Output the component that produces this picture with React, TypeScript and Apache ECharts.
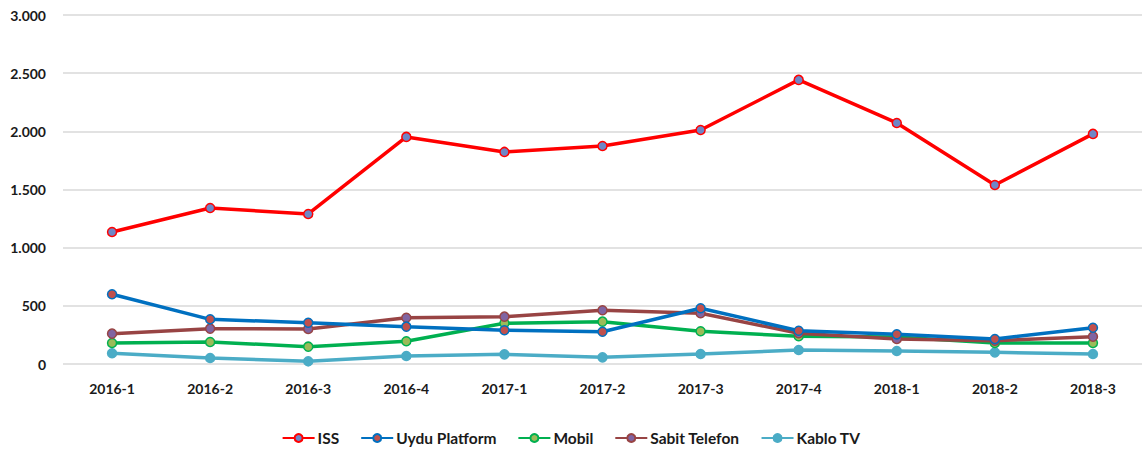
import React, { useEffect, useRef } from "react";
import * as echarts from "echarts";

const categories = ["2016-1", "2016-2", "2016-3", "2016-4", "2017-1", "2017-2", "2017-3", "2017-4", "2018-1", "2018-2", "2018-3"];
const iss = [1135, 1341, 1290, 1952, 1823, 1874, 2012, 2442, 2072, 1539, 1978];
const uydu = [599, 384, 355, 321, 290, 277, 479, 286, 255, 215, 312];
const mobil = [181, 189, 149, 195, 350, 364, 281, 238, 232, 181, 181];
const sabit = [261, 304, 301, 398, 407, 462, 436, 264, 215, 200, 235];
const kablo = [92, 52, 23, 69, 83, 57, 86, 120, 112, 100, 86];

const seriesNames = ["ISS", "Uydu Platform", "Mobil", "Sabit Telefon", "Kablo TV"];

export default function App() {
  const ref = useRef<HTMLDivElement>(null);
  useEffect(() => {
    if (!ref.current) return;
    const chart = echarts.init(ref.current, null, { renderer: "svg" });
    const font = "Lato, 'Open Sans', sans-serif";
    const mk = (name: string, data: number[], line: string, fill: string, z: number) => ({
      name,
      type: "line",
      data,
      z,
      symbol: "circle",
      symbolSize: 9,
      lineStyle: { color: line, width: 3.5 },
      itemStyle: { color: fill, borderColor: line, borderWidth: 1.5 },
    });
    chart.setOption({
      animation: false,
      grid: { left: 63, right: -4, top: 15, bottom: 90, containLabel: false },
      legend: {
        bottom: 3,
        left: "center",
        itemWidth: 32,
        itemHeight: 10,
        itemGap: 21,
        textStyle: { fontFamily: font, fontWeight: "bold", fontSize: 15.5, color: "#1a1a1a", padding: [0, 0, 0, -2] },
        data: seriesNames,
      },
      xAxis: {
        type: "category",
        data: categories,
        boundaryGap: true,
        axisLine: { show: false },
        axisTick: { show: false },
        axisLabel: { fontFamily: font, fontWeight: "bold", fontSize: 14, color: "#1a1a1a", margin: 17 },
      },
      yAxis: {
        type: "value",
        min: 0,
        max: 3000,
        interval: 500,
        axisLine: { show: false },
        axisTick: { show: false },
        splitLine: { lineStyle: { color: "#d9d9d9", width: 1.5 } },
        axisLabel: {
          fontFamily: font,
          fontWeight: "bold",
          fontSize: 14,
          color: "#1a1a1a",
          margin: 17,
          formatter: (v: number) => v.toLocaleString("de-DE"),
        },
      },
      series: [
        mk("ISS", iss, "#ff0000", "#6f86c6", 5),
        mk("Uydu Platform", uydu, "#0070c0", "#c0504d", 4),
        mk("Mobil", mobil, "#00b050", "#9bbb59", 2),
        mk("Sabit Telefon", sabit, "#984444", "#8064a2", 3),
        mk("Kablo TV", kablo, "#4bacc6", "#4bacc6", 1),
      ],
    });
    return () => chart.dispose();
  }, []);
  return <div ref={ref} style={{ position: "fixed", left: 0, top: 0, width: 1142, height: 454, background: "#fff" }} />;
}
